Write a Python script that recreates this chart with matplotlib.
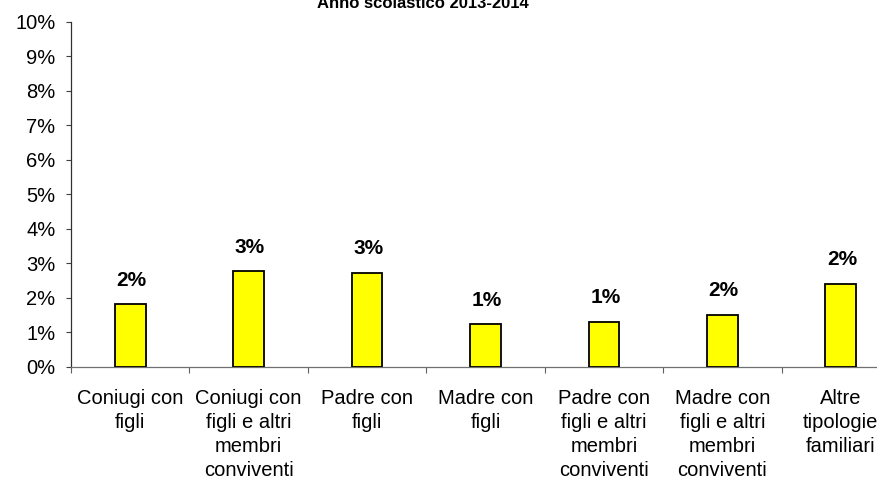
import matplotlib
matplotlib.use("Agg")
import matplotlib.pyplot as plt
from matplotlib.ticker import FixedLocator, FuncFormatter

plt.rcParams['font.family'] = ['Liberation Sans', 'DejaVu Sans']

title = "Anno scolastico 2013-2014"
categories = [
    "Coniugi con\nfigli",
    "Coniugi con\nfigli e altri\nmembri\nconviventi",
    "Padre con\nfigli",
    "Madre con\nfigli",
    "Padre con\nfigli e altri\nmembri\nconviventi",
    "Madre con\nfigli e altri\nmembri\nconviventi",
    "Altre\ntipologie\nfamiliari",
]
values = [1.81, 2.76, 2.71, 1.23, 1.29, 1.51, 2.40]  # percent
yticks = list(range(0, 11))

W, H = 877, 497
fig = plt.figure(figsize=(W / 100, H / 100), dpi=100)
ax = fig.add_axes([71 / W, (H - 366.7) / H, 829 / W, 345 / H])

x = list(range(len(categories)))
ax.bar(x, values, width=0.26, color='#FFFF00', edgecolor='black', linewidth=1.3, zorder=3)

for xi, v in zip(x, values):
    ax.annotate(f"{v:.0f}%", xy=(xi, v), xytext=(1, 13.5), textcoords='offset points',
                ha='center', va='baseline', fontsize=15, fontweight='bold')

ax.set_xlim(-0.5, len(categories) - 0.5)
ax.set_ylim(0, 10)
ax.yaxis.set_major_locator(FixedLocator(yticks))
ax.yaxis.set_major_formatter(FuncFormatter(lambda v, p: f"{v:.0f}%"))

ax.set_xticks(x)
ax.set_xticklabels(categories, fontsize=14.5, linespacing=1.33)
ax.set_xticks([i - 0.5 for i in range(len(categories) + 1)], minor=True)
ax.tick_params(axis='x', which='major', length=0, pad=16)
ax.tick_params(axis='x', which='minor', length=4.3, width=0.8, color='#606060', direction='out')
ax.tick_params(axis='y', length=3.6, width=0.8, color='#404040', pad=7.5, labelsize=14.5)

for s in ['top', 'right']:
    ax.spines[s].set_visible(False)
ax.spines['left'].set_color('#303030')
ax.spines['left'].set_linewidth(0.9)
ax.spines['bottom'].set_color('#707070')
ax.spines['bottom'].set_linewidth(0.9)

fig.text(423 / W, 1 - 7.5 / H, title, ha='center', va='baseline', fontsize=12, fontweight='bold')

fig.savefig("out.png", dpi=100)
